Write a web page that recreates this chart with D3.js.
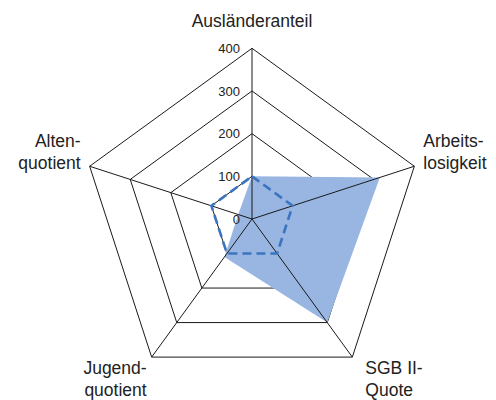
<!DOCTYPE html>
<html><head><meta charset="utf-8">
<script src="https://cdn.jsdelivr.net/npm/d3@7"></script>
<style>body{margin:0;background:#fff}svg{display:block}text{font-family:"Liberation Sans",Arial,sans-serif;fill:#222}</style>
</head><body>
<svg id="c" width="496" height="400"></svg>
<script>
const axes = [["Ausländeranteil"], ["Arbeits-","losigkeit"], ["SGB II-","Quote"], ["Jugend-","quotient"], ["Alten-","quotient"]];
const values = [100, 315, 300, 110, 34];
const reference = [100, 100, 100, 100, 100];
const ticks = [0, 100, 200, 300, 400];

const svg = d3.select("#c");
const cx = 252, cy = 219;
const r = d3.scaleLinear().domain([0, 400]).range([0, 170.7]);
const ang = d3.scaleLinear().domain([0, axes.length]).range([0, 2*Math.PI]);
const pt = (i, v) => [cx + Math.sin(ang(i))*r(v), cy - Math.cos(ang(i))*r(v)];
const line = d3.line().curve(d3.curveLinearClosed);

// grid pentagons
const g = svg.append("g");
g.selectAll("path.grid").data(ticks.slice(1)).join("path")
  .attr("d", t => line(axes.map((a,i)=>pt(i,t))))
  .attr("fill","none").attr("stroke","#1a1a1a").attr("stroke-width",1);

// data fill
svg.append("path").attr("d", line(values.map((v,i)=>pt(i,v))))
  .attr("fill","#98b6e1");

// spokes
svg.selectAll("line.spoke").data(axes).join("line")
  .attr("x1",cx).attr("y1",cy)
  .attr("x2",(d,i)=>pt(i,400)[0]).attr("y2",(d,i)=>pt(i,400)[1])
  .attr("stroke","#1a1a1a").attr("stroke-width",1);

// reference dashed
svg.append("path").attr("d", line(reference.map((v,i)=>pt(i,v))))
  .attr("fill","none").attr("stroke","#3a74c0").attr("stroke-width",2.6)
  .attr("stroke-dasharray","9,5");

// tick labels
svg.selectAll("text.tick").data(ticks).join("text")
  .attr("x", cx-12).attr("y", t => cy - r(t)).attr("dy","0.36em")
  .attr("text-anchor","end").attr("font-size",13).text(t=>t);

// axis labels
const lab = [
  {dx:0, dy:-21, anchor:"middle"},
  {dx:9, dy:-19, anchor:"start"},
  {dx:13, dy:17, anchor:"start"},
  {dx:-5, dy:17, anchor:"end"},
  {dx:-9, dy:-19, anchor:"end"}
];
axes.forEach((a,i)=>{
  const p = pt(i,400);
  const t = svg.append("text").attr("font-size",17.5).attr("text-anchor",lab[i].anchor);
  a.forEach((s,k)=>{
    t.append("tspan").attr("x", p[0]+lab[i].dx).attr("y", p[1]+lab[i].dy + k*22).text(s);
  });
});
</script>
</body></html>
